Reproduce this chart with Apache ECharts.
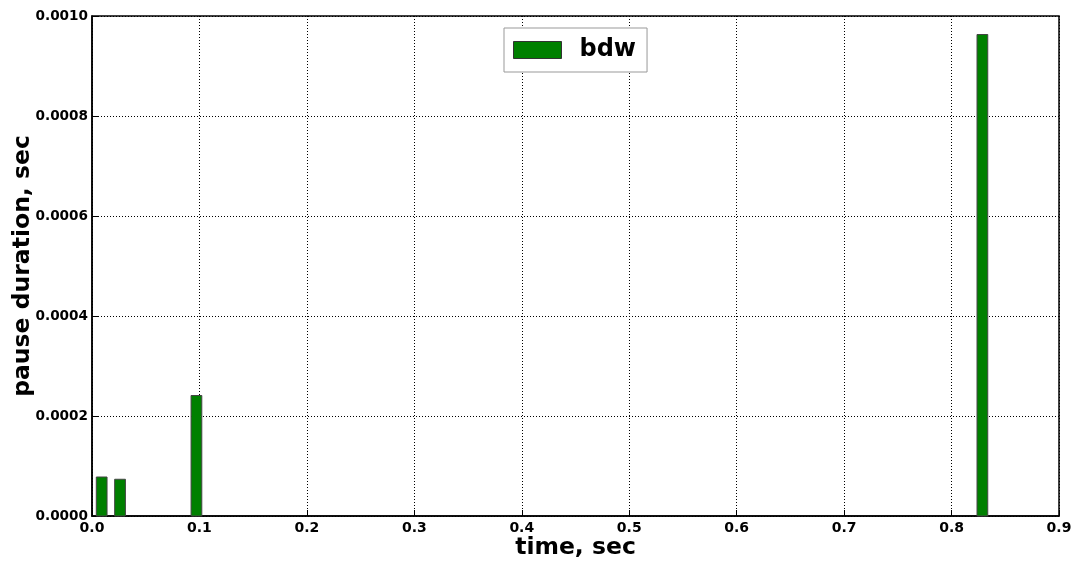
<!DOCTYPE html>
<html>
<head>
<meta charset="utf-8">
<script src="https://cdn.jsdelivr.net/npm/echarts@6/dist/echarts.min.js"></script>
<style>html,body{margin:0;padding:0;background:#fff}#c{width:1078px;height:563px}</style>
</head>
<body>
<div id="c"></div>
<script>
// Data
var seriesName = 'bdw';
var barStart = [0.0040, 0.0211, 0.0922, 0.8237];   // time, sec (left edge of bar)
var barWidthData = [0.0100, 0.0100, 0.0100, 0.0100]; // bar width in seconds
var pauseValues = [0.000078, 0.0000735, 0.000241, 0.000963]; // pause duration, sec
var xTicks = ['0.0','0.1','0.2','0.3','0.4','0.5','0.6','0.7','0.8','0.9'];
var yTicks = ['0.0000','0.0002','0.0004','0.0006','0.0008','0.0010'];

var data = barStart.map(function(s, i){ return [s, s + barWidthData[i], pauseValues[i]]; });
var font = 'DejaVu Sans';
var chart = echarts.init(document.getElementById('c'), null, {renderer:'canvas'});
chart.setOption({
  animation:false,
  backgroundColor:'#fff',
  grid:{left:92, right:19, top:16, bottom:47, show:true, borderColor:'#000', borderWidth:1.5,
    backgroundColor:'transparent', containLabel:false, outerBoundsMode:'none'},
  legend:{
    left:504, top:28, orient:'horizontal',
    data:[seriesName],
    itemWidth:48, itemHeight:17, itemGap:10,
    padding:[10,11,10,9],
    borderColor:'#999', borderWidth:1, backgroundColor:'#fff',
    textStyle:{fontFamily:font, fontWeight:'bold', fontSize:24, color:'#000', padding:[0,0,0,13]},
    itemStyle:{color:'#008000', borderColor:'#333', borderWidth:1},
    icon:'rect'
  },
  xAxis:{
    type:'value', min:0, max:0.9, interval:0.1,
    name:'time, sec', nameLocation:'middle', nameGap:20, nameMoveOverlap:false,
    nameTextStyle:{fontFamily:font, fontWeight:'bold', fontSize:23.5, color:'#000', verticalAlign:'top'},
    axisLine:{show:true, lineStyle:{color:'#000', width:1.5}},
    axisTick:{show:true, inside:true, length:6, lineStyle:{color:'#000'}},
    axisLabel:{fontFamily:font, fontWeight:'bold', fontSize:14, color:'#000', margin:5,
      formatter:function(v){ var i=Math.round(v*10); return xTicks[i]; }},
    splitLine:{show:true, lineStyle:{color:'#000', type:[1,2], width:1}}
  },
  yAxis:{
    type:'value', min:0, max:0.001, interval:0.0002,
    name:'pause duration, sec', nameLocation:'middle', nameGap:57, nameMoveOverlap:false,
    nameTextStyle:{fontFamily:font, fontWeight:'bold', fontSize:23.5, color:'#000'},
    axisLine:{show:true, lineStyle:{color:'#000', width:1.5}},
    axisTick:{show:true, inside:true, length:6, lineStyle:{color:'#000'}},
    axisLabel:{fontFamily:font, fontWeight:'bold', fontSize:13.6, color:'#000', margin:4,
      formatter:function(v){ var i=Math.round(v/0.0002); return yTicks[i]; }},
    splitLine:{show:true, lineStyle:{color:'#000', type:[1,2], width:1}}
  },
  series:[{
    name:seriesName, type:'custom',
    itemStyle:{color:'#008000', borderColor:'#333', borderWidth:1},
    encode:{x:[0,1], y:2},
    data:data,
    renderItem:function(params, api){
      var p0 = api.coord([api.value(0), api.value(2)]);
      var p1 = api.coord([api.value(1), 0]);
      return {type:'rect', shape:{x:p0[0], y:p0[1], width:p1[0]-p0[0], height:p1[1]-p0[1]},
        style:{fill:'#008000', stroke:'#444', lineWidth:1}};
    }
  }]
});
</script>
</body>
</html>
